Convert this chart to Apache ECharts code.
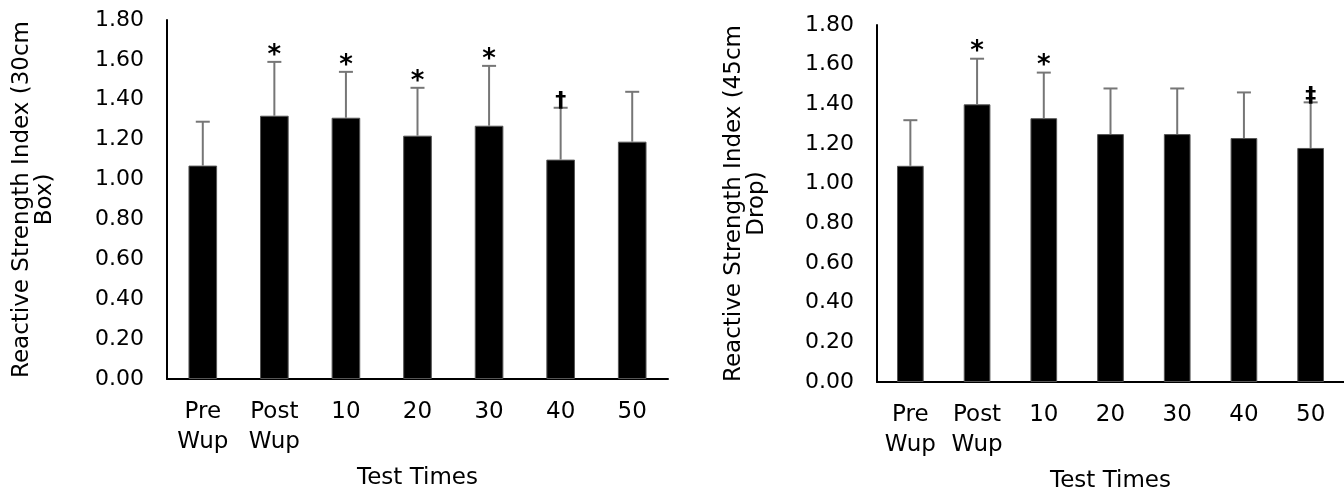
<!DOCTYPE html>
<html>
<head>
<meta charset="utf-8">
<script src="https://cdn.jsdelivr.net/npm/echarts@6/dist/echarts.min.js"></script>
<style>
html,body{margin:0;padding:0;background:#fff;}
#chart{width:1344px;height:498px;}
</style>
</head>
<body>
<div id="chart"></div>
<script>
const categories = ['Pre\nWup', 'Post\nWup', '10', '20', '30', '40', '50'];
const yTicks = ['0.00','0.20','0.40','0.60','0.80','1.00','1.20','1.40','1.60','1.80'];
const rsi30Means = [1.07, 1.32, 1.31, 1.22, 1.27, 1.10, 1.19];
const rsi30SD    = [0.22, 0.27, 0.23, 0.24, 0.30, 0.26, 0.25];
const rsi30Marks = ['', '*', '*', '*', '*', '\u2020', ''];
const rsi45Means = [1.09, 1.40, 1.33, 1.25, 1.25, 1.23, 1.18];
const rsi45SD    = [0.23, 0.23, 0.23, 0.23, 0.23, 0.23, 0.23];
const rsi45Marks = ['', '*', '*', '', '', '', '\u2021'];

const FONT = 'DejaVu Sans';
const FS_TICK = 22;
const FS = 23;

function errData(means, sds){
  return means.map((m,i)=>[i, m, +(m+sds[i]).toFixed(3)]);
}
function errRender(marks){
  return function(params, api){
    const i = api.value(0);
    const lo = api.coord([i, api.value(1)]);
    const hi = api.coord([i, api.value(2)]);
    const children = [
      {type:'line', shape:{x1:lo[0],y1:lo[1],x2:hi[0],y2:hi[1]}, style:{stroke:'#767676', lineWidth:2}},
      {type:'line', shape:{x1:hi[0]-7,y1:hi[1],x2:hi[0]+7,y2:hi[1]}, style:{stroke:'#767676', lineWidth:2}}
    ];
    const mk = marks[params.dataIndex];
    if (mk) {
      const isStar = mk === '*';
      children.push({type:'text', style:{text:mk, x:hi[0], y: isStar ? hi[1]+7 : hi[1]+5,
        textAlign:'center', textVerticalAlign:'bottom', fill:'#000',
        font: (isStar ? 'bold 26px ' : 'bold 22px ') + FONT}});
    }
    return {type:'group', children};
  };
}

function xAxisCfg(gi){
  return {
    type:'category', gridIndex:gi, data:categories,
    axisLine:{lineStyle:{color:'#000', width:2}},
    axisTick:{show:false},
    axisLabel:{color:'#000', fontFamily:FONT, fontSize:FS, lineHeight:30, margin:18, interval:0},
    name:'Test Times', nameLocation:'middle', nameGap:88,
    nameTextStyle:{color:'#000', fontFamily:FONT, fontSize:FS}
  };
}
function yAxisCfg(gi, title){
  return {
    type:'value', gridIndex:gi, min:0, max:1.8, interval:0.2,
    axisLine:{show:true, lineStyle:{color:'#000', width:2}},
    axisTick:{show:false}, splitLine:{show:false},
    axisLabel:{color:'#000', fontFamily:FONT, fontSize:FS_TICK, margin:23,
      formatter:(v)=>yTicks[Math.round(v/0.2)]},
    name:title, nameLocation:'middle', nameGap:110,
    nameTextStyle:{color:'#000', fontFamily:FONT, fontSize:FS, lineHeight:23, align:'center'}
  };
}

const chart = echarts.init(document.getElementById('chart'), null, {renderer:'canvas'});
chart.setOption({
  animation:false,
  backgroundColor:'#fff',
  grid:[
    {left:167, top:20, width:501, height:359},
    {left:877, top:25, width:467, height:359}
  ],
  xAxis:[xAxisCfg(0), xAxisCfg(1)],
  yAxis:[
    yAxisCfg(0, 'Reactive Strength Index (30cm\nBox)'),
    Object.assign(yAxisCfg(1, 'Reactive Strength Index (45cm\nDrop)'), {nameGap:108})
  ],
  series:[
    {type:'bar', xAxisIndex:0, yAxisIndex:0, data:rsi30Means, barWidth:'40%',
      itemStyle:{color:'#000', borderColor:'#555', borderWidth:1}},
    {type:'custom', xAxisIndex:0, yAxisIndex:0, data:errData(rsi30Means, rsi30SD),
      encode:{x:0, y:[1,2]}, renderItem:errRender(rsi30Marks), clip:false, z:3},
    {type:'bar', xAxisIndex:1, yAxisIndex:1, data:rsi45Means, barWidth:'40%',
      itemStyle:{color:'#000', borderColor:'#555', borderWidth:1}},
    {type:'custom', xAxisIndex:1, yAxisIndex:1, data:errData(rsi45Means, rsi45SD),
      encode:{x:0, y:[1,2]}, renderItem:errRender(rsi45Marks), clip:false, z:3}
  ]
});
</script>
</body>
</html>
